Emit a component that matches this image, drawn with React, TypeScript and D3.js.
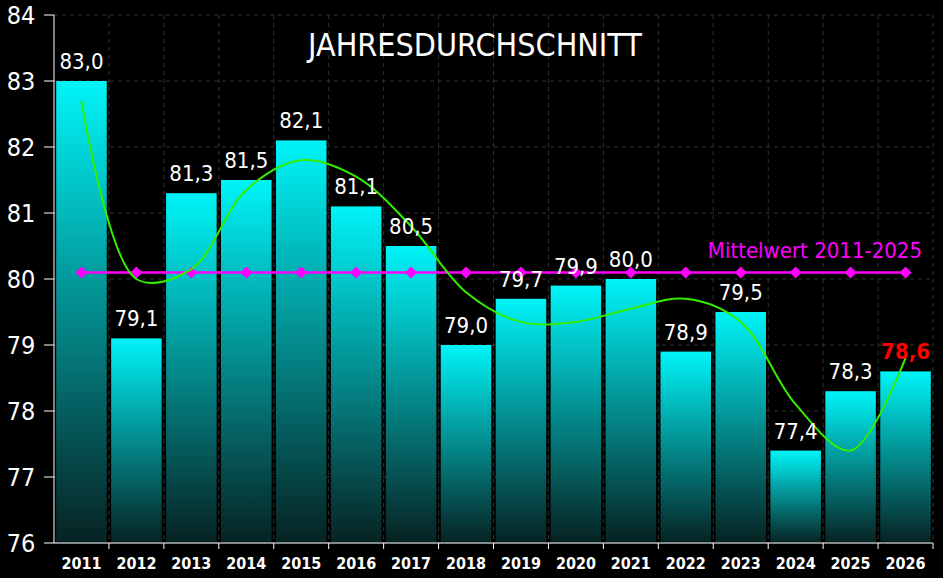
import React from "react";
import * as d3 from "d3";

const years = ["2011","2012","2013","2014","2015","2016","2017","2018","2019","2020","2021","2022","2023","2024","2025","2026"];
const values = [83.0, 79.1, 81.3, 81.5, 82.1, 81.1, 80.5, 79.0, 79.7, 79.9, 80.0, 78.9, 79.5, 77.4, 78.3, 78.6];
const trend = [82.7, 80.0, 80.15, 81.35, 81.8, 81.55, 80.8, 79.8, 79.35, 79.35, 79.55, 79.7, 79.35, 78.1, 77.4, 78.8];
const meanValue = 80.1;
const yTicks = [76, 77, 78, 79, 80, 81, 82, 83, 84];

const W = 943, H = 578;
const m = { left: 54, right: 10, top: 15, bottom: 35 };
const font = "'DejaVu Sans Condensed', 'DejaVu Sans', sans-serif";

export default function App() {
  const x = d3.scaleBand().domain(years).range([m.left, W - m.right]).paddingInner(0.08).paddingOuter(0.04);
  const y = d3.scaleLinear().domain([76, 84]).range([H - m.bottom, m.top]);
  const cx = (yr: string) => (x(yr) as number) + x.bandwidth() / 2;
  const trendLine = d3.line<number>().x((_, i) => cx(years[i])).y((d) => y(d)).curve(d3.curveCatmullRom.alpha(0.5));
  const step = x.step();
  const sep = (yr: string) => (x(yr) as number) + x.bandwidth() + (step - x.bandwidth()) / 2;
  return (
    <div style={{ position: "fixed", left: 0, top: 0 }}>
      <svg width={W} height={H} style={{ background: "#000", display: "block" }} fontFamily={font}>
        <defs>
          <linearGradient id="bar" x1="0" y1="0" x2="0" y2="1">
            <stop offset="0%" stopColor="#00f4f8" />
            <stop offset="100%" stopColor="#072222" />
          </linearGradient>
        </defs>
        {yTicks.map((t) => (
          <g key={t}>
            <line x1={m.left} x2={W - m.right} y1={y(t)} y2={y(t)} stroke="#333" strokeDasharray="4 4" />
            <line x1={m.left - 10} x2={m.left} y1={y(t)} y2={y(t)} stroke="#fff" />
            <text x={m.left - 33} y={y(t) + 9} fill="#fff" fontSize={25} textAnchor="middle">{t}</text>
          </g>
        ))}
        {years.map((yr) => (
          <line key={yr} x1={sep(yr)} x2={sep(yr)} y1={m.top} y2={H - m.bottom} stroke="#333" strokeDasharray="4 4" />
        ))}
        {years.map((yr, i) => (
          <rect key={yr} x={x(yr)} y={y(values[i])} width={x.bandwidth()} height={y(76) - y(values[i])} fill="url(#bar)" />
        ))}
        <line x1={m.left} x2={m.left} y1={m.top} y2={H - m.bottom} stroke="#fff" />
        <line x1={m.left} x2={W - m.right} y1={H - m.bottom} y2={H - m.bottom} stroke="#fff" />
        {years.map((yr) => (
          <line key={yr} x1={sep(yr)} x2={sep(yr)} y1={H - m.bottom} y2={H - m.bottom + 6} stroke="#fff" />
        ))}
        {years.map((yr) => (
          <text key={yr} x={cx(yr)} y={H - 9} fill="#fff" fontSize={16} fontWeight="bold" textAnchor="middle">{yr}</text>
        ))}
        <line x1={cx(years[0])} x2={cx(years[years.length - 1])} y1={y(meanValue)} y2={y(meanValue)} stroke="#ff00ff" strokeWidth={2.5} />
        {years.map((yr) => {
          const px = cx(yr), py = y(meanValue);
          return <path key={yr} d={`M${px},${py - 6}L${px + 6},${py}L${px},${py + 6}L${px - 6},${py}Z`} fill="#ff00ff" />;
        })}
        <text x={922} y={y(meanValue) - 14} fill="#ff00ff" fontSize={22} textAnchor="end">Mittelwert 2011-2025</text>
        <path d={trendLine(trend) || ""} fill="none" stroke="#33ee00" strokeWidth={2} />
        {years.map((yr, i) => (
          <text key={yr} x={cx(yr)} y={y(values[i]) - 12} fill={i === years.length - 1 ? "#ff0000" : "#fff"} fontSize={22} fontWeight={i === years.length - 1 ? "bold" : "normal"} textAnchor="middle">
            {values[i].toFixed(1).replace(".", ",")}
          </text>
        ))}
        <text x={475} y={56} fill="#fff" fontSize={32} textAnchor="middle">JAHRESDURCHSCHNITT</text>
      </svg>
    </div>
  );
}
